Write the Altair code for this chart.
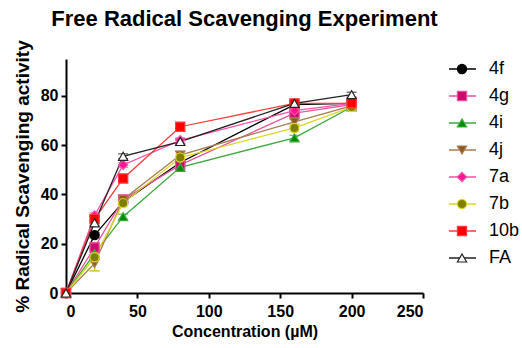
import altair as alt
import pandas as pd

conc = [0, 20, 40, 80, 160, 200]
series_names = ["4f", "4g", "4i", "4j", "7a", "7b", "10b", "FA"]

v_4f = [0, 23.5, 37.0, 53.0, 76.5, 77.0]
v_4g = [0, 18.5, 38.0, 52.0, 73.0, 76.5]
v_4i = [0, 16.0, 31.0, 51.0, 63.0, 75.5]
v_4j = [0, 12.0, 38.0, 56.0, 69.5, 76.0]
v_7a = [0, 31.5, 52.0, 62.0, 74.0, 77.0]
v_7b = [0, 14.5, 36.5, 55.0, 67.0, 75.5]
v_10b = [0, 30.0, 46.5, 67.5, 77.0, 77.0]
v_FA = [0, 28.5, 55.5, 61.5, 77.0, 80.5]

e_4f = [0, 1.0, 1.0, 1.0, 1.0, 1.0]
e_4g = [0, 2.0, 1.5, 1.0, 1.0, 1.0]
e_4i = [0, 1.5, 1.0, 1.0, 1.0, 1.0]
e_4j = [0, 3.0, 1.5, 1.5, 1.0, 1.0]
e_7a = [0, 1.0, 1.0, 1.0, 1.0, 1.0]
e_7b = [0, 5.5, 1.5, 1.5, 1.5, 1.0]
e_10b = [0, 1.0, 1.0, 1.0, 1.0, 1.0]
e_FA = [0, 1.0, 1.0, 1.0, 1.0, 1.0]

line_colors = ["#000000", "#E8529E", "#3DAA3D", "#A87C50", "#FF4FA8", "#D8D820", "#FF3B3B", "#222222"]
fill_colors = ["#000000", "#CC0A6E", "#008A00", "#8C5A20", "#FF1493", "#808000", "#FF0000", "#FFFFFF"]
shapes = ["circle", "square", "triangle-up", "triangle-down", "diamond", "circle", "square", "triangle-up"]

values = [v_4f, v_4g, v_4i, v_4j, v_7a, v_7b, v_10b, v_FA]
errors = [e_4f, e_4g, e_4i, e_4j, e_7a, e_7b, e_10b, e_FA]

rows = []
for i, name in enumerate(series_names):
    for c, v, e in zip(conc, values[i], errors[i]):
        rows.append({"series": name, "order": i, "conc": c, "value": v, "err": e})
df = pd.DataFrame(rows)
legend_df = pd.DataFrame({"series": series_names})

FONT = "Liberation Sans"

xscale = alt.Scale(domain=[0, 250], nice=False)
yscale = alt.Scale(domain=[0, 95], nice=False)
stroke_scale = alt.Scale(domain=series_names, range=line_colors)
fill_scale = alt.Scale(domain=series_names, range=fill_colors)
shape_scale = alt.Scale(domain=series_names, range=shapes)

base = alt.Chart(df)

lines = base.mark_line(strokeWidth=1.3).encode(
    x=alt.X("conc:Q", scale=xscale,
            axis=alt.Axis(values=[0, 50, 100, 150, 200, 250], title="Concentration (µM)")),
    y=alt.Y("value:Q", scale=yscale,
            axis=alt.Axis(values=[0, 20, 40, 60, 80], title="% Radical Scavenging activity")),
    color=alt.Color("series:N", scale=stroke_scale, legend=None),
    detail="series:N",
)

err_rules = base.transform_filter("datum.err > 0").transform_calculate(
    lo="datum.value - datum.err", hi="datum.value + datum.err"
).mark_rule(strokeWidth=1.3).encode(
    x="conc:Q",
    y="lo:Q",
    y2="hi:Q",
    color=alt.Color("series:N", scale=stroke_scale, legend=None),
)

err_lo = base.transform_filter("datum.err > 0").transform_calculate(
    lo="datum.value - datum.err"
).mark_tick(thickness=1.3, size=10, orient="horizontal").encode(
    x="conc:Q",
    y="lo:Q",
    color=alt.Color("series:N", scale=stroke_scale, legend=None),
)

err_hi = base.transform_filter("datum.err > 0").transform_calculate(
    hi="datum.value + datum.err"
).mark_tick(thickness=1.3, size=10, orient="horizontal").encode(
    x="conc:Q",
    y="hi:Q",
    color=alt.Color("series:N", scale=stroke_scale, legend=None),
)

points = base.mark_point(filled=True, opacity=1, size=85, strokeWidth=1.2).encode(
    x="conc:Q",
    y="value:Q",
    fill=alt.Fill("series:N", scale=fill_scale, legend=None),
    stroke=alt.Stroke("series:N", scale=stroke_scale, legend=None),
    shape=alt.Shape("series:N", scale=shape_scale, legend=None),
    order=alt.Order("order:Q"),
)

data_layer = alt.layer(lines, err_rules, err_lo, err_hi, points)

leg_y = alt.Y("series:N", scale=alt.Scale(type="point", domain=series_names, range=[10, 199], padding=0), axis=None)

leg_lines = alt.Chart(legend_df).mark_rule(strokeWidth=1.5).encode(
    x=alt.value(383), x2=alt.value(410), y=leg_y,
    color=alt.Color("series:N", scale=stroke_scale, legend=None),
)
leg_pts = alt.Chart(legend_df).mark_point(filled=True, opacity=1, size=85, strokeWidth=1.2).encode(
    x=alt.value(396), y=leg_y,
    fill=alt.Fill("series:N", scale=fill_scale, legend=None),
    stroke=alt.Stroke("series:N", scale=stroke_scale, legend=None),
    shape=alt.Shape("series:N", scale=shape_scale, legend=None),
)
leg_text = alt.Chart(legend_df).mark_text(
    align="left", baseline="middle", fontSize=18, font=FONT, color="black"
).encode(x=alt.value(423), y=leg_y, text="series:N")

legend_layer = alt.layer(leg_lines, leg_pts, leg_text)

chart = alt.layer(data_layer, legend_layer).resolve_scale(y="independent").properties(
    width=357,
    height=234,
    autosize=alt.AutoSizeParams(type="none"),
    padding={"left": 66, "top": 59, "right": 99, "bottom": 55},
    title=alt.TitleParams(
        "Free Radical Scavenging Experiment",
        font=FONT, fontSize=22, fontWeight="bold", color="black",
        anchor="middle", offset=9,
    ),
).configure_view(stroke=None).configure_axis(
    grid=False,
    domainColor="black", domainWidth=2,
    tickColor="black", tickWidth=2, tickSize=5,
    labelFont=FONT, labelFontSize=16, labelFontWeight="bold", labelColor="black",
    titleFont=FONT, titleFontSize=16, titleFontWeight="bold", titleColor="black",
    labelPadding=3,
).configure_axisY(titlePadding=8, titleFontSize=19).configure_axisX(titlePadding=4, labelPadding=5)

chart.save("out.html", embed_options={"renderer": "svg", "actions": False})
